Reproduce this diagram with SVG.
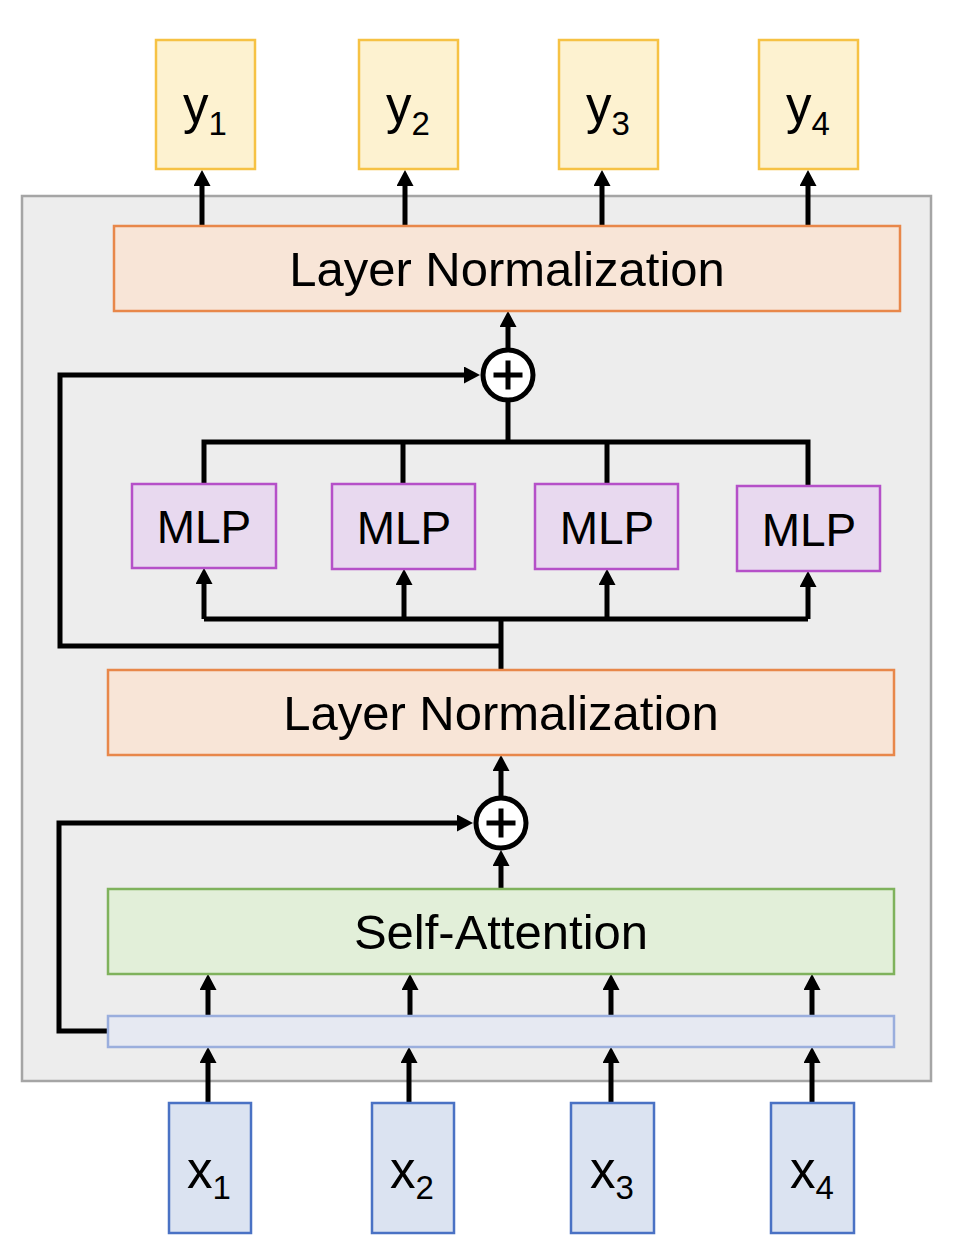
<svg xmlns="http://www.w3.org/2000/svg" width="968" height="1258" viewBox="0 0 968 1258">
<defs>
<style>
.t{font-family:"Liberation Sans",Arial,sans-serif;fill:#000;text-anchor:middle}
.big{font-size:49px}
.mlp{font-size:46px}
.lbl{font-size:51px}
.sub{font-size:33px}
.yb{fill:#fdf2d0;stroke:#f6c244;stroke-width:2.5}
.ln{fill:#f8e5d7;stroke:#e8874a;stroke-width:2.5}
.mb{fill:#e8d9ef;stroke:#b550c8;stroke-width:2.5}
.sa{fill:#e2efd9;stroke:#7fb25c;stroke-width:2.5}
.bar{fill:#e6e9f2;stroke:#9aaedd;stroke-width:2.5}
.xb{fill:#dbe3f1;stroke:#4a72c4;stroke-width:2.5}
.c{fill:none;stroke:#000;stroke-width:5;stroke-linejoin:miter}
.a{fill:none;stroke:#000;stroke-width:5;marker-end:url(#ah)}
.plus{fill:#fff;stroke:#000;stroke-width:5}
</style>
<marker id="ah" viewBox="0 0 16 17" markerWidth="16" markerHeight="17" refX="0" refY="8.5" orient="auto" markerUnits="userSpaceOnUse">
<path d="M0,0 L16,8.5 L0,17 z" fill="#000"/>
</marker>
</defs>
<rect x="0" y="0" width="968" height="1258" fill="#fff"/>
<g id="block">
<rect x="22" y="196" width="909" height="885" fill="#ededed" stroke="#a5a5a5" stroke-width="2.5"/>
</g>
<g id="connectors">
<path class="a" d="M202,226 V186"/>
<path class="a" d="M405,226 V186"/>
<path class="a" d="M602,226 V186"/>
<path class="a" d="M808,226 V186"/>
<path class="a" d="M508,350 V327"/>
<path class="a" d="M508,442 V386"/>
<path class="c" d="M204,484 V442 H808 V486 M403,442 V484 M607,442 V484"/>
<path class="c" d="M501,670 V619 M204,619 H808"/>
<path class="a" d="M204,619 V584"/>
<path class="a" d="M404,619 V585"/>
<path class="a" d="M607,619 V585"/>
<path class="a" d="M808,619 V587"/>
<path class="a" d="M501,646 H60 V375 H464"/>
<path class="a" d="M501,798 V771"/>
<path class="a" d="M501,889 V866"/>
<path class="a" d="M108,1031 H59 V823 H457"/>
<path class="a" d="M208,1016 V990"/>
<path class="a" d="M410,1016 V990"/>
<path class="a" d="M611,1016 V990"/>
<path class="a" d="M812,1016 V990"/>
<path class="a" d="M208,1103 V1063"/>
<path class="a" d="M409,1103 V1063"/>
<path class="a" d="M611,1103 V1063"/>
<path class="a" d="M812,1103 V1063"/>
</g>
<g id="y1"><rect class="yb" x="156" y="40" width="99" height="129"/><text class="t lbl" x="205" y="123">y<tspan class="sub" dy="12">1</tspan></text></g>
<g id="y2"><rect class="yb" x="359" y="40" width="99" height="129"/><text class="t lbl" x="408" y="123">y<tspan class="sub" dy="12">2</tspan></text></g>
<g id="y3"><rect class="yb" x="559" y="40" width="99" height="129"/><text class="t lbl" x="608" y="123">y<tspan class="sub" dy="12">3</tspan></text></g>
<g id="y4"><rect class="yb" x="759" y="40" width="99" height="129"/><text class="t lbl" x="808" y="123">y<tspan class="sub" dy="12">4</tspan></text></g>
<g id="ln1"><rect class="ln" x="114" y="226" width="786" height="85"/><text class="t big" x="507" y="286">Layer Normalization</text></g>
<g id="add1"><circle class="plus" cx="508" cy="375" r="25"/><path d="M493.5,375 H522.5 M508,360.5 V389.5" stroke="#000" stroke-width="5"/></g>
<g id="mlp1"><rect class="mb" x="132" y="484" width="144" height="84"/><text class="t mlp" x="204" y="543">MLP</text></g>
<g id="mlp2"><rect class="mb" x="332" y="484" width="143" height="85"/><text class="t mlp" x="404" y="544">MLP</text></g>
<g id="mlp3"><rect class="mb" x="535" y="484" width="143" height="85"/><text class="t mlp" x="607" y="544">MLP</text></g>
<g id="mlp4"><rect class="mb" x="737" y="486" width="143" height="85"/><text class="t mlp" x="809" y="546">MLP</text></g>
<g id="ln2"><rect class="ln" x="108" y="670" width="786" height="85"/><text class="t big" x="501" y="730">Layer Normalization</text></g>
<g id="add2"><circle class="plus" cx="501" cy="823" r="25"/><path d="M486.5,823 H515.5 M501,808.5 V837.5" stroke="#000" stroke-width="5"/></g>
<g id="attn"><rect class="sa" x="108" y="889" width="786" height="85"/><text class="t big" x="501" y="949">Self-Attention</text></g>
<g id="embed"><rect class="bar" x="108" y="1016" width="786" height="31"/></g>
<g id="x1"><rect class="xb" x="169" y="1103" width="82" height="130"/><text class="t lbl" x="209" y="1188">x<tspan class="sub" dy="11">1</tspan></text></g>
<g id="x2"><rect class="xb" x="372" y="1103" width="82" height="130"/><text class="t lbl" x="412" y="1188">x<tspan class="sub" dy="11">2</tspan></text></g>
<g id="x3"><rect class="xb" x="571" y="1103" width="83" height="130"/><text class="t lbl" x="612" y="1188">x<tspan class="sub" dy="11">3</tspan></text></g>
<g id="x4"><rect class="xb" x="771" y="1103" width="83" height="130"/><text class="t lbl" x="812" y="1188">x<tspan class="sub" dy="11">4</tspan></text></g>
</svg>
